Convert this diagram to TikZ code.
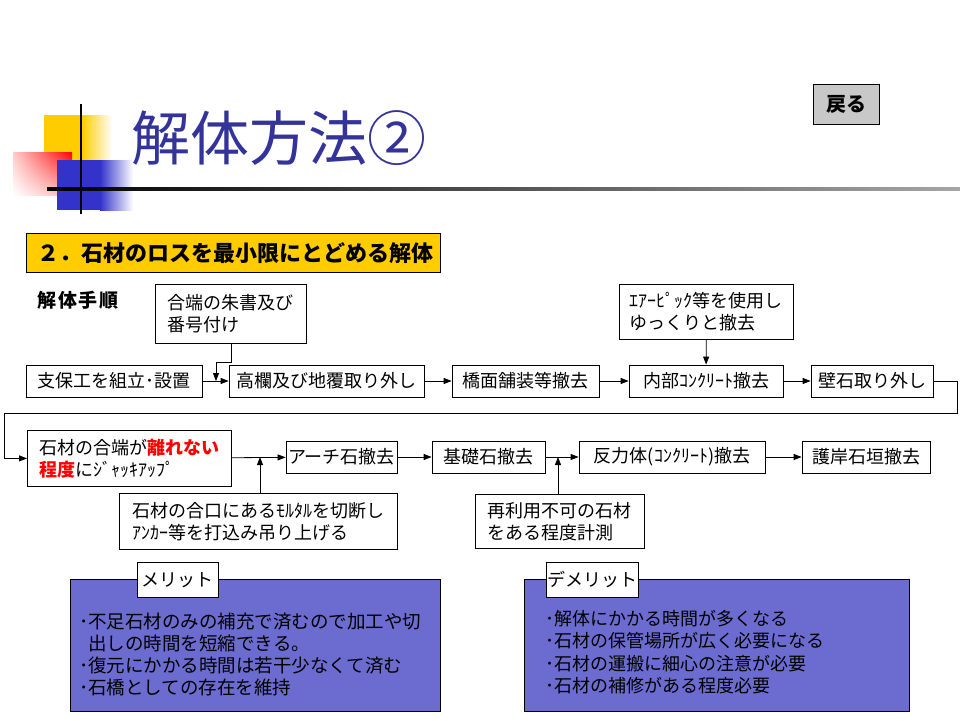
\documentclass[tikz,border=0pt]{standalone}
\usepackage{fontspec}
\setmainfont{Noto Sans CJK JP}
\usetikzlibrary{arrows.meta,shadings}
\definecolor{hdyellow}{HTML}{FFCC00}
\definecolor{titleblue}{HTML}{333399}
\definecolor{decoblue}{HTML}{3333CC}
\definecolor{paneblue}{HTML}{6B6BD0}
\definecolor{btngray}{HTML}{C8C8C8}

\begin{document}
\begin{tikzpicture}[x=1pt,y=-1pt,
  flow/.style={draw,fill=white,line width=0.8pt,inner sep=0pt,minimum height=32pt,
    font=\fontsize{18}{22}\selectfont},
  note/.style={draw,fill=white,line width=0.8pt,inner sep=0pt,align=left,anchor=north west,
    font=\fontsize{18}{22}\selectfont},
  pane/.style={draw,fill=paneblue,line width=0.8pt,anchor=north west},
  tag/.style={draw,fill=white,line width=0.8pt,inner sep=0pt,anchor=north west,
    font=\fontsize{18}{22}\selectfont},
  arr/.style={line width=0.8pt,-{Triangle[length=8pt,width=6pt]}}]
  \useasboundingbox (0,0) rectangle (960,720);
  \fill[color=white] (0,0) rectangle (960,720);

  \fill[hdyellow] (44,115) rectangle (82,160);
  \shade[left color=hdyellow,right color=white] (82,115) rectangle (112,160);
  \shade[upper left=red!20,upper right=red,lower left=white,lower right=red!30]
    (13,152) rectangle (72,195);
  \fill[decoblue] (57,160) rectangle (100,210);
  \shade[left color=decoblue,right color=white] (100,160) rectangle (133,210);
  \draw[line width=2.5pt] (81,104) -- (81,214);
  \shade[left color=black,right color=black!35] (47,187) rectangle (960,190);
  \node[anchor=west,inner sep=0pt,text=titleblue,font=\fontsize{59}{59}\selectfont]
    (title) at (131,138) {解体方法②};

  \node[draw,fill=btngray,line width=0.8pt,anchor=north west,minimum width=66pt,
    minimum height=40pt,inner sep=0pt,font=\fontsize{20}{20}\selectfont\bfseries]
    (back) at (813,84) {戻る};

  \node[draw,fill=hdyellow,line width=0.8pt,anchor=north west,minimum width=414pt,
    minimum height=39pt] (head) at (26,233) {};
  \node[anchor=west,inner sep=0pt,font=\fontsize{22}{22}\selectfont\bfseries]
    (headtxt) at ([xshift=11pt]head.west) {２．石材のロスを最小限にとどめる解体};
  \node[anchor=west,inner sep=0pt,
    font=\fontsize{19}{19}\selectfont\bfseries\addfontfeature{LetterSpace=10}]
    (proc) at (37,300) {解体手順};

  \node[flow,minimum width=176pt] (sup) at (114,381) {支保工を組立･設置};
  \node[flow,minimum width=195pt] (kor) at (326.5,381) {高欄及び地覆取り外し};
  \node[flow,minimum width=147pt] (kyo) at (525.5,381) {橋面舗装等撤去};
  \node[flow,minimum width=154pt] (nai) at (706,381) {内部ｺﾝｸﾘｰﾄ撤去};
  \node[flow,minimum width=122pt] (kab) at (872,381) {壁石取り外し};

  \node[note,minimum width=151pt,minimum height=59pt] (shu) at (155,284)
    {合端の朱書及び\\番号付け};
  \node[note,minimum width=174pt,minimum height=55pt] (air) at (619,284)
    {ｴｱｰﾋﾟｯｸ等を使用し\\ゆっくりと撤去};

  \node[note,minimum width=204pt,minimum height=56pt] (jack) at (27,430)
    {石材の合端が\textbf{\color{red}離れない}\\\textbf{\color{red}程度}にｼﾞｬｯｷｱｯﾌﾟ};
  \node[flow,minimum width=111pt] (ach) at (341.5,457) {アーチ石撤去};
  \node[flow,minimum width=113pt] (kis) at (488.5,457) {基礎石撤去};
  \node[flow,minimum width=186pt] (han) at (672,457) {反力体(ｺﾝｸﾘｰﾄ)撤去};
  \node[flow,minimum width=128pt] (gog) at (866,457) {護岸石垣撤去};

  \node[note,minimum width=278pt,minimum height=56pt] (moru) at (119,493)
    {石材の合口にあるﾓﾙﾀﾙを切断し\\ｱﾝｶｰ等を打込み吊り上げる};
  \node[note,minimum width=169pt,minimum height=54pt] (kei) at (475,494)
    {再利用不可の石材\\をある程度計測};

  \coordinate (j1) at (216,381);
  \coordinate (j2) at (260,457);
  \coordinate (j3) at (558,457);
  \coordinate (lp1) at (957,381);
  \coordinate (lp2) at (4,413);

  \draw[arr] (sup) -- (kor);
  \draw[arr] (kor) -- (kyo);
  \draw[arr] (kyo) -- (nai);
  \draw[arr] (nai) -- (kab);
  \draw[arr] (shu.south) -- ++(0,19) -| (j1);
  \draw[arr] (air) -- (nai);
  \draw[arr] (kab) -- (lp1) |- (lp2) |- (jack);
  \draw[arr] (jack) -- (ach);
  \draw[arr] (ach) -- (kis);
  \draw[arr] (kis) -- (han);
  \draw[arr] (han) -- (gog);
  \draw[arr] (moru.north -| j2) -- (j2);
  \draw[arr] (kei.north -| j3) -- (j3);

  \node[pane,minimum width=370pt,minimum height=132pt] (meri) at (70,579) {};
  \node[tag,minimum width=81pt,minimum height=35pt] (meritag) at (137,562) {メリット};
  \node[anchor=north west,align=left,inner sep=0pt,font=\fontsize{18.5}{22}\selectfont]
    (meritxt) at (79,613)
    {･不足石材のみの補充で済むので加工や切\\\hphantom{･}出しの時間を短縮できる。\\
     ･復元にかかる時間は若干少なくて済む\\･石橋としての存在を維持};

  \node[pane,minimum width=385pt,minimum height=132pt] (deme) at (524,579) {};
  \node[tag,minimum width=92pt,minimum height=35pt] (demetag) at (546,562) {デメリット};
  \node[anchor=north west,align=left,inner sep=0pt,font=\fontsize{18}{22.3}\selectfont]
    (demetxt) at (545,610)
    {･解体にかかる時間が多くなる\\･石材の保管場所が広く必要になる\\
     ･石材の運搬に細心の注意が必要\\･石材の補修がある程度必要};
\end{tikzpicture}
\end{document}
